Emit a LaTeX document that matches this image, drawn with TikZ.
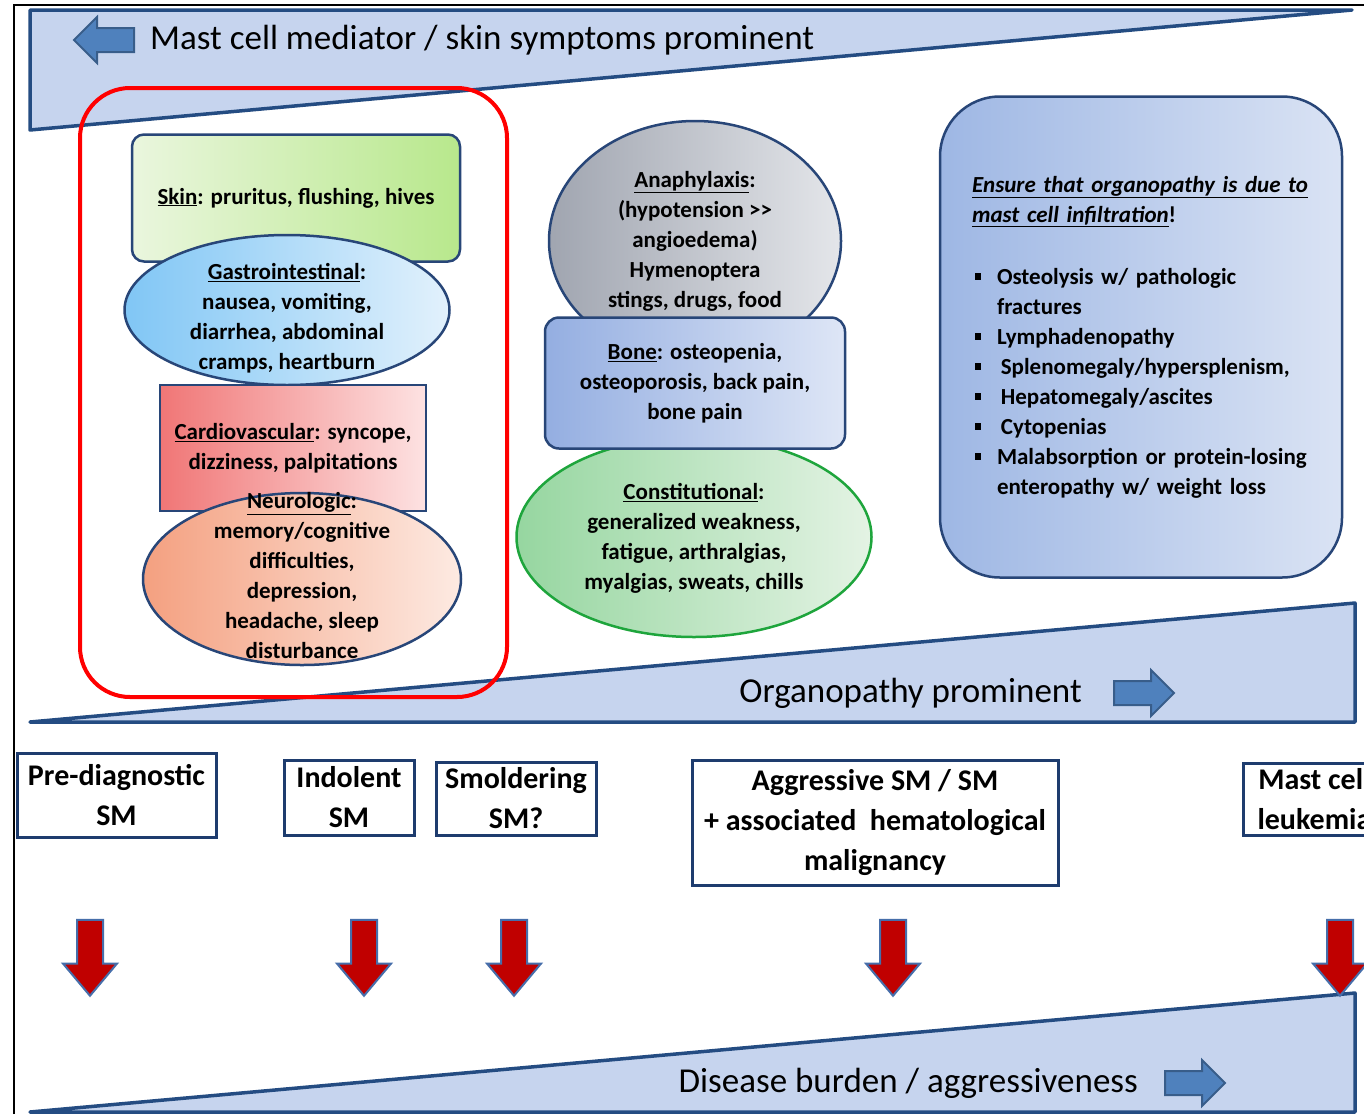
\documentclass[tikz,border=0pt]{standalone}
\usepackage{fontspec}
\setmainfont{Carlito}
\usetikzlibrary{shapes.geometric,shapes.arrows}

\definecolor{bannerfill}{RGB}{198,212,238}
\definecolor{bannerline}{RGB}{36,76,130}
\definecolor{symline}{RGB}{40,70,120}
\definecolor{skinL}{RGB}{234,246,222}
\definecolor{skinR}{RGB}{184,232,140}
\definecolor{giL}{RGB}{128,198,245}
\definecolor{giR}{RGB}{226,241,252}
\definecolor{cardL}{RGB}{240,118,118}
\definecolor{cardR}{RGB}{253,226,226}
\definecolor{neuL}{RGB}{244,160,128}
\definecolor{neuR}{RGB}{253,234,226}
\definecolor{anaL}{RGB}{160,165,176}
\definecolor{anaR}{RGB}{228,230,234}
\definecolor{boneL}{RGB}{148,174,225}
\definecolor{boneR}{RGB}{222,230,246}
\definecolor{conL}{RGB}{150,214,160}
\definecolor{conR}{RGB}{228,243,228}
\definecolor{conline}{RGB}{30,165,60}
\definecolor{panelL}{RGB}{158,183,228}
\definecolor{panelR}{RGB}{218,227,244}
\definecolor{stageline}{RGB}{30,60,110}
\definecolor{arrowred}{RGB}{192,0,0}
\definecolor{arrowline}{RGB}{70,110,170}
\definecolor{bluefill}{RGB}{79,129,189}
\definecolor{blueline}{RGB}{56,93,138}

\newcommand{\sqbul}{\makebox[25pt][l]{\hspace*{3pt}\rule[4pt]{6pt}{7pt}}}

\begin{document}
\begin{tikzpicture}[x=1pt, y=-1pt,
	sym/.style={draw=symline, line width=2.5pt, align=center, inner sep=0pt,
		font=\bfseries\fontsize{23}{30}\selectfont},
	symtext/.style={align=center, inner sep=0pt, font=\bfseries\fontsize{23}{30}\selectfont},
	stage/.style={draw=stageline, line width=3pt, fill=white, align=center, inner sep=0pt,
		font=\bfseries\fontsize{30}{40}\selectfont},
	banner/.style={draw=bannerline, fill=bannerfill, line width=3.5pt, line join=round},
	bannertext/.style={inner sep=0pt, font=\fontsize{35}{40}\selectfont},
	redarrow/.style={single arrow, draw=arrowline, fill=arrowred, line width=2pt, rotate=-90,
		minimum height=76pt, inner xsep=0pt, inner ysep=12pt,
		single arrow head extend=14pt, single arrow tip angle=80},
	bluearrow/.style={single arrow, draw=blueline, fill=bluefill, line width=2pt,
		minimum height=60pt, inner xsep=0pt, inner ysep=11pt,
		single arrow head extend=11pt, single arrow tip angle=90}]
	\useasboundingbox (0,0) rectangle (1364,1114);
	\fill[white] (0,0) rectangle (1364,1114);
	\draw[line width=1.5pt] (14,1114) -- (14,5) -- (1364,5);

	% Banners
	\draw[banner] (30,10) -- (1352,10) -- (30,130) -- cycle;
	\draw[banner] (30,722) -- (1355,603) -- (1355,722) -- cycle;
	\draw[banner] (30,1112) -- (1355,993) -- (1355,1112) -- cycle;

	\node[bluearrow, shape border rotate=180] 	(lefta) at (110,40) {};
	\node[bannertext, anchor=west] 	(mediator) at (150,40) {Mast cell mediator / skin symptoms prominent};
	\node[bannertext, anchor=east] 	(organo) at (1082,693) {Organopathy prominent};
	\node[bluearrow] 	(orga) at (1138,693) {};
	\node[bannertext, anchor=east] 	(burden) at (1138,1083) {Disease burden / aggressiveness};
	\node[bluearrow] 	(bura) at (1189,1083) {};

	% Nodes {skin, gi, card, neu}
	\node[sym, rounded corners=12pt, minimum width=328pt, minimum height=127pt,
		left color=skinL, right color=skinR] 	(skin) at (296,198) {\underline{Skin}: pruritus, flushing, hives};
	\node[sym, ellipse, minimum width=325pt, minimum height=150pt,
		left color=giL, right color=giR] 	(gi) at (287,310) {};
	\node[symtext] 	(gitext) at (287,318) {\underline{Gastrointestinal}:\\nausea, vomiting,\\diarrhea, abdominal\\cramps, heartburn};
	\node[sym, minimum width=266pt, minimum height=126pt,
		left color=cardL, right color=cardR] 	(card) at (293,448) {\underline{Cardiovascular}: syncope,\\dizziness, palpitations};
	\node[sym, ellipse, minimum width=318pt, minimum height=172pt,
		left color=neuL, right color=neuR] 	(neu) at (302,579) {};
	\node[symtext] 	(neutext) at (302,576) {\underline{Neurologic}:\\memory/cognitive\\difficulties,\\depression,\\headache, sleep\\disturbance};

	% Nodes {ana, con, bone}
	\node[sym, ellipse, minimum width=292pt, minimum height=240pt,
		left color=anaL, right color=anaR] 	(ana) at (695,241) {};
	\node[symtext] 	(anatext) at (695,241) {\underline{Anaphylaxis}:\\(hypotension >\kern0pt>\\angioedema)\\Hymenoptera\\stings, drugs, food};
	\node[sym, ellipse, draw=conline, minimum width=355pt, minimum height=200pt,
		left color=conL, right color=conR] 	(con) at (694,537) {};
	\node[symtext] 	(context) at (694,538) {\underline{Constitutional}:\\generalized weakness,\\fatigue, arthralgias,\\myalgias, sweats, chills};
	\node[sym, rounded corners=14pt, minimum width=300pt, minimum height=131pt,
		left color=boneL, right color=boneR] 	(bone) at (695,383) {\underline{Bone}: osteopenia,\\osteoporosis, back pain,\\bone pain};

	% Organopathy panel
	\node[sym, rounded corners=60pt, minimum height=481pt, text width=338pt, inner xsep=32pt,
		align=left, left color=panelL, right color=panelR] 	(panel) at (1141,337) {%
		\textit{\underline{Ensure that organopathy is due to}}\\
		\textit{\underline{mast cell infiltration}}!\\[32pt]
		\sqbul Osteolysis w/ pathologic\\
		\hspace*{25pt}fractures\\
		\sqbul Lymphadenopathy\\
		\sqbul\,Splenomegaly/hypersplenism,\\
		\sqbul\,Hepatomegaly/ascites\\
		\sqbul\,Cytopenias\\
		\sqbul Malabsorption or protein-losing\\
		\hspace*{25pt}enteropathy w/ weight loss};

	\draw[red, line width=4pt, rounded corners=50pt] (80,88) rectangle (507,697);

	% Stages
	\node[stage, minimum width=199pt, minimum height=84pt] 	(pre) at (116.5,795) {Pre-diagnostic\\SM};
	\node[stage, minimum width=130pt, minimum height=75pt] 	(ind) at (349,797.5) {Indolent\\SM};
	\node[stage, minimum width=160pt, minimum height=73pt] 	(smo) at (516,798.5) {Smoldering\\SM?};
	\node[stage, minimum width=366pt, minimum height=125pt] 	(agg) at (875,822.5) {Aggressive SM / SM\\+ associated\ \ hematological\\malignancy};
	\node[stage, anchor=west, minimum height=72pt, inner xsep=14pt] 	(mcl) at (1242,799) {Mast cell\\leukemia};

	\node[redarrow] 	(apre) at (90,950) {};
	\node[redarrow] 	(aind) at (364,950) {};
	\node[redarrow] 	(asmo) at (514,950) {};
	\node[redarrow] 	(aagg) at (893,950) {};
	\node[redarrow] 	(amcl) at (1340,950) {};
\end{tikzpicture}
\end{document}
